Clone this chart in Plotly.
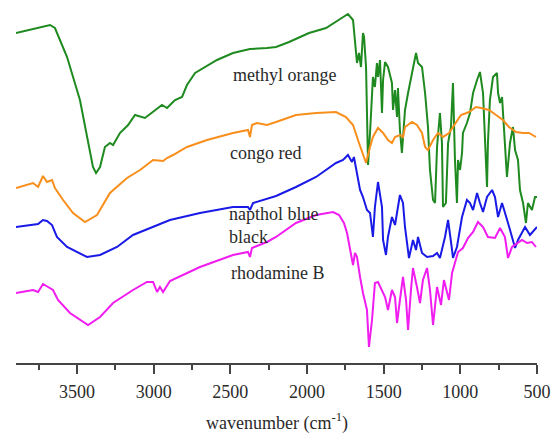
import plotly.graph_objects as go

# FTIR spectra (transmittance, arbitrary offset units) vs wavenumber (cm-1)
mo_wn = [3898, 3807, 3722, 3676, 3644, 3565, 3481, 3428, 3396, 3376, 3350, 3318, 3285, 3265, 3220, 3167, 3122, 3057,
         2991, 2946, 2913, 2861, 2815, 2783, 2730, 2678, 2646, 2587, 2483, 2372, 2261, 2202, 2117, 1987, 1876, 1733,
         1700, 1681, 1674, 1661, 1648, 1635, 1628, 1615, 1609, 1602, 1589, 1576, 1570, 1557, 1544, 1537, 1524, 1511,
         1504, 1491, 1472, 1446, 1439, 1426, 1413, 1407, 1394, 1381, 1374, 1361, 1341, 1315, 1296, 1289, 1276, 1250,
         1230, 1211, 1198, 1185, 1178, 1165, 1152, 1133, 1120, 1113, 1094, 1080, 1061, 1048, 1035, 1022, 1015, 1002,
         989, 983, 957, 937, 917, 891, 872, 852, 839, 826, 820, 807, 787, 761, 754, 741, 728, 709, 696, 676, 657, 643,
         624, 611, 591, 572, 559, 533, 513, 500]
mo_t = [330, 333, 336, 338, 335, 306, 263, 223, 196, 190, 196, 216, 220, 218, 230, 238, 248, 245,
        253, 258, 255, 263, 266, 278, 290, 295, 298, 303, 310, 314, 315, 316, 321, 330, 335, 349,
        343, 316, 300, 310, 296, 330, 326, 296, 230, 198, 230, 273, 286, 276, 300, 286, 303, 250,
        283, 301, 296, 280, 253, 273, 246, 275, 233, 210, 226, 253, 270, 290, 305, 310, 300, 296,
        270, 236, 193, 173, 163, 160, 216, 250, 220, 156, 160, 220, 236, 280, 203, 160, 203, 193,
        210, 230, 240, 250, 270, 283, 291, 270, 220, 176, 220, 263, 286, 290, 270, 260, 266, 220, 186, 220, 236, 213,
        203, 173, 160, 140, 160, 153, 166, 166]

cr_wn = [3898, 3787, 3754, 3722, 3696, 3663, 3644, 3591, 3526, 3448, 3370, 3285, 3174, 3089, 3004, 2939, 2913, 2874,
         2783, 2652, 2483, 2385, 2372, 2359, 2326, 2261, 2202, 2072, 1941, 1811, 1746, 1700, 1661, 1615, 1589, 1570,
         1537, 1504, 1472, 1446, 1426, 1394, 1374, 1361, 1315, 1283, 1250, 1230, 1211, 1178, 1146, 1113, 1074, 1028,
         996, 943, 898, 865, 813, 767, 722, 683, 637, 591, 552, 507]
cr_t = [175, 180, 176, 187, 181, 183, 175, 163, 150, 141, 148, 170, 185, 193, 203, 202, 205, 208,
        216, 223, 230, 233, 226, 238, 240, 238, 241, 248, 250, 251, 246, 238, 220, 200, 216, 226,
        235, 230, 223, 220, 226, 228, 226, 236, 241, 238, 230, 216, 213, 223, 230, 226, 230, 240,
        248, 251, 256, 255, 253, 248, 243, 236, 231, 230, 230, 226]

nbb_wn = [3898, 3787, 3754, 3722, 3696, 3663, 3631, 3565, 3435, 3350, 3239, 3135, 3070, 2978, 2894, 2698, 2483, 2385,
          2372, 2352, 2202, 2072, 1941, 1811, 1765, 1733, 1707, 1694, 1674, 1654, 1635, 1609, 1589, 1570, 1557, 1537,
          1511, 1504, 1485, 1472, 1446, 1426, 1394, 1374, 1361, 1335, 1309, 1289, 1276, 1250, 1217, 1178, 1152, 1133,
          1100, 1080, 1054, 1048, 1022, 989, 957, 937, 917, 891, 872, 852, 826, 793, 774, 754, 728, 709, 689, 663, 643,
          624, 578, 546, 500]
nbb_t = [136, 138, 139, 143, 142, 138, 126, 116, 106, 108, 116, 128, 132, 138, 143, 150, 156, 156,
         153, 160, 167, 176, 186, 200, 203, 208, 201, 206, 190, 173, 166, 153, 150, 126, 156, 181,
         156, 123, 108, 126, 146, 138, 168, 160, 136, 105, 123, 113, 126, 110, 106, 107, 110, 105,
         126, 143, 113, 105, 116, 146, 163, 160, 153, 170, 160, 151, 166, 173, 166, 146, 160, 151, 140, 126, 115,
         123, 136, 128, 136]

rb_wn = [3898, 3787, 3754, 3722, 3689, 3657, 3624, 3546, 3428, 3350, 3265, 3135, 3044, 3004, 2978, 2959, 2939, 2894,
         2698, 2483, 2385, 2372, 2359, 2261, 2202, 2072, 1941, 1830, 1791, 1759, 1739, 1720, 1700, 1687, 1674, 1654,
         1635, 1609, 1596, 1576, 1557, 1537, 1511, 1491, 1472, 1446, 1426, 1413, 1394, 1374, 1354, 1341, 1322, 1309,
         1283, 1263, 1244, 1217, 1198, 1178, 1152, 1126, 1107, 1074, 1054, 1015, 983, 950, 917, 885, 852, 820, 774,
         741, 709, 689, 663, 630, 598, 565, 533, 507]
rb_t = [70, 73, 71, 79, 76, 73, 63, 50, 38, 46, 60, 73, 81, 81, 71, 76, 71, 82,
        96, 108, 111, 106, 115, 121, 126, 140, 148, 151, 148, 140, 130, 113, 98, 110, 106, 86,
        70, 53, 16, 43, 80, 81, 73, 66, 53, 73, 66, 40, 63, 86, 63, 33, 73, 95,
        76, 60, 83, 95, 73, 38, 76, 58, 83, 63, 90, 111, 115, 125, 131, 141, 136, 126, 125,
        135, 126, 105, 116, 120, 123, 120, 121, 116]

series = [
    ("methyl orange", mo_wn, mo_t, "#1f8a1f"),
    ("congo red", cr_wn, cr_t, "#f88f1c"),
    ("napthol blue black", nbb_wn, nbb_t, "#1a1ae6"),
    ("rhodamine B", rb_wn, rb_t, "#f01cf0"),
]

tick_vals = [3500, 3000, 2500, 2000, 1500, 1000, 500]

fig = go.Figure()
for name, x, y, c in series:
    fig.add_trace(go.Scatter(x=x, y=y, mode="lines", name=name,
                             line=dict(color=c, width=2), showlegend=False))

font_family = "Liberation Serif"
txt = "#2a2a2a"
labels = [
    ("methyl orange", 2496, 288),
    ("congo red", 2515, 210),
    ("napthol blue<br>black", 2522, 138),
    ("rhodamine B", 2509, 90),
]
for t, xx, yy in labels:
    fig.add_annotation(x=xx, y=yy, xref="x", yref="y", text=t, showarrow=False,
                       xanchor="left", yanchor="middle", align="left",
                       font=dict(family=font_family, size=18, color=txt))

fig.add_annotation(x=0.5, y=-0.162, xref="paper", yref="paper",
                   text="wavenumber (cm<sup>-1</sup>)", showarrow=False,
                   xanchor="center", yanchor="middle",
                   font=dict(family=font_family, size=18, color=txt))

fig.update_layout(
    width=552, height=433,
    margin=dict(l=16, r=15, t=0, b=70),
    paper_bgcolor="white", plot_bgcolor="white",
    xaxis=dict(range=[3898, 500], tickvals=tick_vals, ticks="outside", ticklen=9, tickwidth=1.5,
               tickcolor="#444", showline=True, linecolor="#444", linewidth=1.5, showgrid=False,
               zeroline=False, tickfont=dict(family=font_family, size=18, color=txt),
               ticklabelstandoff=3,
               minor=dict(dtick=250, tick0=0, ticks="outside", ticklen=5, tickwidth=1.5, tickcolor="#444",
                          showgrid=False)),
    yaxis=dict(range=[0, 363], visible=False, showgrid=False, zeroline=False),
)

fig.write_html("out.html", config={"displayModeBar": False})

# remove the browser's default page margin so the figure sits at the window's corner
with open("out.html", "r", encoding="utf-8") as f:
    html = f.read()
html = html.replace("<head>", "<head><style>html,body{margin:0;padding:0;overflow:hidden;}</style>", 1)
with open("out.html", "w", encoding="utf-8") as f:
    f.write(html)
